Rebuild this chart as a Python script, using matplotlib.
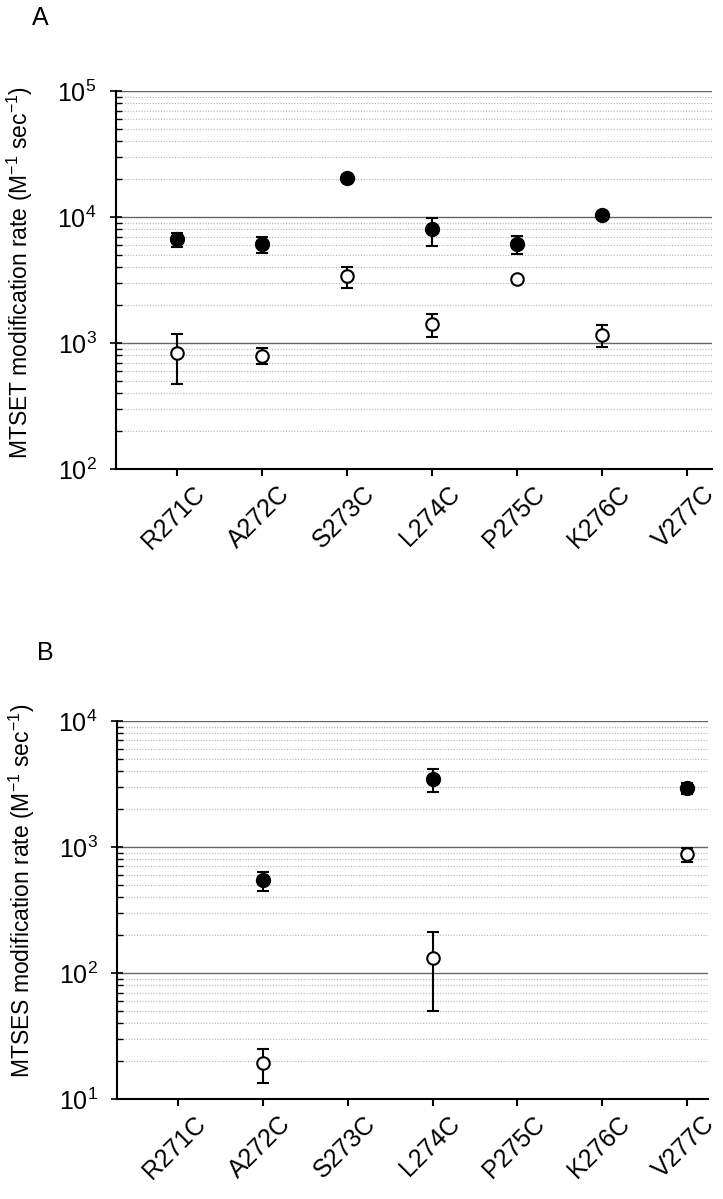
import matplotlib
matplotlib.use("Agg")
import matplotlib.pyplot as plt
import matplotlib.transforms as mtransforms
from matplotlib.ticker import LogLocator, NullFormatter
import numpy as np

plt.rcParams['font.family'] = ['Liberation Sans', 'DejaVu Sans']
plt.rcParams['mathtext.default'] = 'regular'

mutants = ['R271C', 'A272C', 'S273C', 'L274C', 'P275C', 'K276C', 'V277C']
nan = np.nan

# panel A: MTSET rates, filled and open symbols (value, lower end, upper end of error bar)
mtset_filled = [6650, 6110, 20300, 7980, 6070, 10400, nan]
mtset_filled_lo = [5780, 5150, 18900, 5930, 5060, 9800, nan]
mtset_filled_hi = [7470, 6980, 21700, 9880, 7060, 11000, nan]
mtset_open = [830, 795, 3400, 1415, 3200, 1150, nan]
mtset_open_lo = [470, 685, 2750, 1120, 3200, 925, nan]
mtset_open_hi = [1170, 910, 4040, 1690, 3200, 1390, nan]

# panel B: MTSES rates
mtses_filled = [nan, 547, nan, 3445, nan, nan, 2925]
mtses_filled_lo = [nan, 450, nan, 2750, nan, nan, 2620]
mtses_filled_hi = [nan, 637, nan, 4140, nan, nan, 3240]
mtses_open = [nan, 19.4, nan, 132, nan, nan, 875]
mtses_open_lo = [nan, 13.4, nan, 50, nan, nan, 764]
mtses_open_hi = [nan, 24.9, nan, 213, nan, nan, 977]


def draw_series(ax, vals, lo, hi, filled):
    vals = np.array(vals, float)
    lo = np.array(lo, float)
    hi = np.array(hi, float)
    x = np.arange(len(vals))
    ok = np.isfinite(vals)
    yerr = [vals[ok] - lo[ok], hi[ok] - vals[ok]]
    if filled:
        ax.errorbar(x[ok], vals[ok], yerr=yerr, fmt='o', color='black', ms=10,
                    elinewidth=1.5, capsize=4.5, capthick=1.5, zorder=4)
    else:
        ax.errorbar(x[ok], vals[ok], yerr=yerr, fmt='o', color='black', mfc='white',
                    mec='black', mew=1.5, ms=9, elinewidth=1.5, capsize=4.5,
                    capthick=1.5, zorder=4)


def style_axis(ax, ymin, ymax, label, xright):
    ax.set_yscale('log')
    ax.set_ylim(ymin, ymax)
    ax.set_xlim(-0.72, xright)
    ax.yaxis.set_major_locator(LogLocator(base=10, numticks=10))
    ax.yaxis.set_minor_locator(LogLocator(base=10, subs=np.arange(2, 10), numticks=10))
    ax.yaxis.set_minor_formatter(NullFormatter())
    ax.grid(which='major', axis='y', color='0.4', lw=1.0)
    ax.grid(which='minor', axis='y', color='0.7', lw=0.8, ls=(0, (1, 1.5)))
    ax.set_axisbelow(True)
    ax.spines['top'].set_visible(False)
    ax.spines['right'].set_visible(False)
    ax.spines['left'].set_linewidth(1.5)
    ax.spines['bottom'].set_linewidth(1.5)
    ax.tick_params(axis='y', which='major', direction='inout', length=8, width=1.2,
                   labelsize=18, pad=10)
    ax.tick_params(axis='y', which='minor', direction='in', length=4, width=1.0)
    ax.tick_params(axis='x', direction='out', length=5, width=1.5, labelsize=18, pad=4)
    ax.set_xticks(range(len(mutants)))
    ax.set_xticklabels(mutants, rotation=45, ha='right', rotation_mode='anchor')
    offset = mtransforms.ScaledTranslation(11 / 72, 0, ax.figure.dpi_scale_trans)
    for t in ax.get_xticklabels():
        t.set_transform(t.get_transform() + offset)
    ax.set_ylabel(label, fontsize=16.5)
    ax.yaxis.set_label_coords(-0.136, 0.52)


fig = plt.figure(figsize=(7.23, 11.99), dpi=100)
ax1 = fig.add_axes([0.1604, 0.6088, 0.824, 0.3153])
ax2 = fig.add_axes([0.1618, 0.0834, 0.818, 0.3153])

draw_series(ax1, mtset_open, mtset_open_lo, mtset_open_hi, False)
draw_series(ax1, mtset_filled, mtset_filled_lo, mtset_filled_hi, True)
style_axis(ax1, 1e2, 1e5, 'MTSET modification rate (M$^{-1}$ sec$^{-1}$)', 6.29)

draw_series(ax2, mtses_open, mtses_open_lo, mtses_open_hi, False)
draw_series(ax2, mtses_filled, mtses_filled_lo, mtses_filled_hi, True)
style_axis(ax2, 1e1, 1e4, 'MTSES modification rate (M$^{-1}$ sec$^{-1}$)', 6.25)
ax2.yaxis.set_label_coords(-0.136, 0.55)

fig.text(40 / 723, 1 - 18 / 1199, 'A', fontsize=18, ha='center', va='center')
fig.text(45 / 723, 1 - 653 / 1199, 'B', fontsize=18, ha='center', va='center')

fig.savefig('out.png', dpi=100)
